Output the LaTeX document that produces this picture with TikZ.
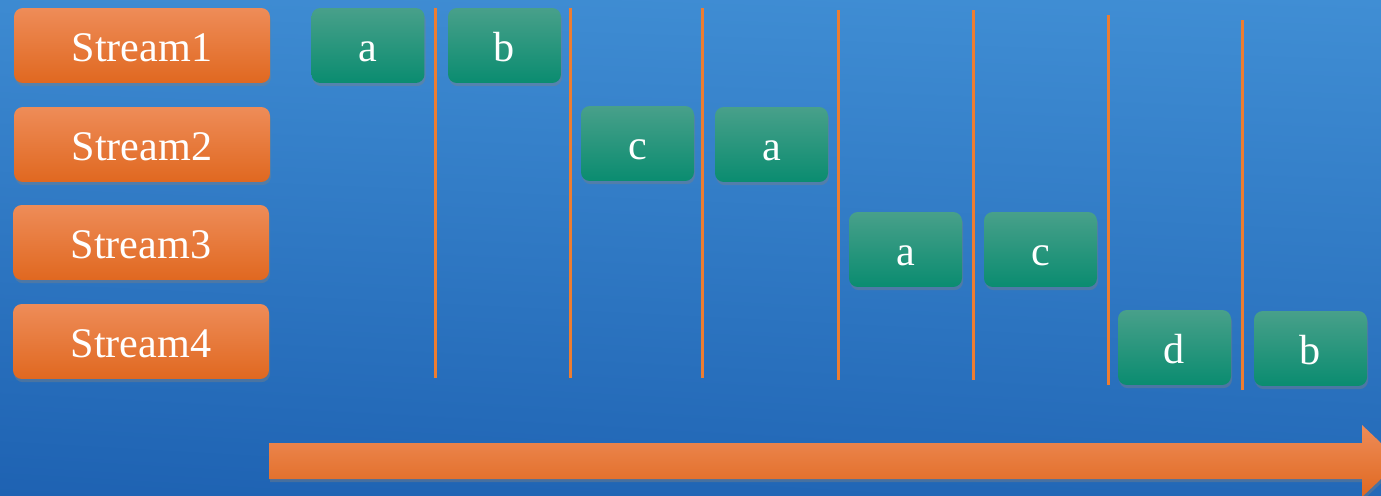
\documentclass[tikz,border=0pt]{standalone}
\usepackage{fontspec}
\setmainfont{Liberation Serif}
\usetikzlibrary{shadows,shadings}

\definecolor{bgtop}{RGB}{64,142,212}
\definecolor{bgbot}{RGB}{30,98,178}
\definecolor{orangetop}{RGB}{238,140,88}
\definecolor{orangemid}{RGB}{240,124,48}
\definecolor{orangebot}{RGB}{224,104,32}
\definecolor{greentop}{RGB}{72,160,138}
\definecolor{greenmid}{RGB}{20,156,126}
\definecolor{greenbot}{RGB}{10,140,112}
\definecolor{divline}{RGB}{237,125,49}

\tikzset{
  streambox/.style={rounded corners=5pt, minimum width=5.12cm, minimum height=1.5cm,
    top color=orangetop, middle color=orangemid, bottom color=orangebot,
    drop shadow={opacity=0.4, shadow xshift=0.6pt, shadow yshift=-1.8pt},
    text=white, font=\fontsize{24}{28}\selectfont, inner sep=0pt,
    text height=0.66cm, text depth=0pt},
  tokenbox/.style={rounded corners=5pt, minimum width=2.26cm, minimum height=1.5cm,
    top color=greentop, middle color=greenmid, bottom color=greenbot,
    drop shadow={opacity=0.4, shadow xshift=0.6pt, shadow yshift=-1.8pt},
    text=white, font=\fontsize{24}{28}\selectfont, inner sep=0pt,
    text height=0.66cm, text depth=0pt},
  divider/.style={draw=divline, line width=1.7pt}
}

\begin{document}
\begin{tikzpicture}[x=0.02cm,y=-0.02cm]
  \clip (0,0) rectangle (1381,496);
  \shade [upper left=bgtop!92!bgbot, upper right=bgtop, lower left=bgbot,
    lower right=bgbot!85!bgtop] (0,0) rectangle (1381,496);

  % streams
  \node [streambox] (s1) at (142,45.5) {Stream1};
  \node [streambox] (s2) at (142,144.5) {Stream2};
  \node [streambox] (s3) at (141,242.5) {Stream3};
  \node [streambox] (s4) at (141,341.5) {Stream4};

  % time slot dividers
  \foreach \x/\ya/\yb in {435/8/378, 570/8/378, 702/8/378, 838/10/380,
                          973/10/380, 1108/15/385, 1242/20/390}
    \draw [divider] (\x,\ya) -- (\x,\yb);

  % tokens
  \node [tokenbox] (t1) at (368,45.5) {a};
  \node [tokenbox] (t2) at (504.5,45.5) {b};
  \node [tokenbox] (t3) at (637.5,143.5) {c};
  \node [tokenbox] (t4) at (771.5,144.5) {a};
  \node [tokenbox] (t5) at (905.5,249.5) {a};
  \node [tokenbox] (t6) at (1040.5,249.5) {c};
  \node [tokenbox] (t7) at (1174.5,347.5) {d};
  \node [tokenbox] (t8) at (1310.5,348.5) {b};

  % time arrow
  \shade [top color=orangetop, middle color=orangemid, bottom color=orangebot,
    drop shadow={opacity=0.4, shadow xshift=0.6pt, shadow yshift=-1.8pt}]
    (269,443) -- (1362,443) -- (1362,425) -- (1400,461) -- (1362,497)
    -- (1362,479) -- (269,479) -- cycle;
\end{tikzpicture}
\end{document}
